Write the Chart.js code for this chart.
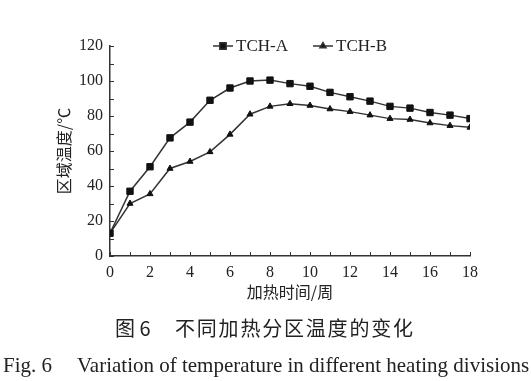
<!DOCTYPE html>
<html>
<head>
<meta charset="utf-8">
<script src="https://cdn.jsdelivr.net/npm/chart.js@4.4.0/dist/chart.umd.min.js"></script>
<style>
  html, body { margin: 0; padding: 0; background: #fff; }
  #wrap { position: relative; width: 531px; height: 381px; overflow: hidden; }
  #myChart { position: absolute; left: 0; top: 0; }
  .cap { position: absolute; white-space: nowrap; color: #222; line-height: 1; }
  .cn { font-family: "Noto Sans CJK SC", sans-serif; font-size: 20px; }
  .en { font-family: "Liberation Serif", serif; font-size: 21px; }
</style>
</head>
<body>
<div id="wrap">
  <canvas id="myChart" width="531" height="381"></canvas>
  <span class="cap cn" style="left:115px; top:318px;">图 6</span>
  <span class="cap cn" style="left:175px; top:318px; letter-spacing:1.8px;">不同加热分区温度的变化</span>
  <span class="cap en" style="left:3px; top:355px;">Fig. 6</span>
  <span class="cap en" style="left:77px; top:355px;">Variation of temperature in different heating divisions</span>
</div>
<script>
// weeks of heating and zone temperatures (°C)
const weeks = [0, 1, 2, 3, 4, 5, 6, 7, 8, 9, 10, 11, 12, 13, 14, 15, 16, 17, 18];
const tchA = [13, 37, 51, 67.5, 76.5, 89, 96, 100, 100.5, 98.5, 97, 93.5, 91, 88.5, 85.5, 84.5, 82, 80.5, 78.5];
const tchB = [13, 30, 35.5, 50, 54, 59.5, 69.5, 81, 85.5, 87, 86, 84, 82.5, 80.5, 78.5, 78, 76, 74.5, 73.5];
const seriesNames = ['TCH-A', 'TCH-B'];
const xTitle = '加热时间/周';
const yTitle = '区域温度/℃';

const ink = '#333333';
let ctx = document.getElementById('myChart');

function pts(vals) {
  return weeks.map(function (w, i) { return { x: w, y: vals[i] }; });
}

// small inward ticks + legend drawn inside the plot
const extras = {
  id: 'extras',
  afterDraw: function (chart) {
    const c = chart.ctx;
    const xs = chart.scales.x, ys = chart.scales.y;
    const area = chart.chartArea;
    c.save();
    c.strokeStyle = ink;
    c.lineWidth = 1;
    for (let v = 0; v <= 18; v++) {
      const px = Math.round(xs.getPixelForValue(v)) + 0.5;
      c.beginPath();
      c.moveTo(px, area.bottom);
      c.lineTo(px, area.bottom - 4);
      c.stroke();
    }
    for (let v = 0; v <= 120; v += 10) {
      const py = Math.round(ys.getPixelForValue(v)) + 0.5;
      c.beginPath();
      c.moveTo(area.left, py);
      c.lineTo(area.left + 4, py);
      c.stroke();
    }
    // legend
    const items = [{ x: 213, style: 'rect', r: 4.5 }, { x: 313, style: 'triangle', r: 3.5 }];
    const ly = 46;
    c.font = '17px "Liberation Serif", serif';
    c.textBaseline = 'middle';
    items.forEach(function (it, i) {
      c.strokeStyle = ink;
      c.lineWidth = 1.5;
      c.beginPath();
      c.moveTo(it.x, ly);
      c.lineTo(it.x + 20, ly);
      c.stroke();
      c.fillStyle = '#111';
      Chart.helpers.drawPoint(c, { pointStyle: it.style, radius: it.r, borderWidth: 1 }, it.x + 10, ly);
      c.fillStyle = '#222';
      c.fillText(seriesNames[i], it.x + 23, ly + 1);
    });
    c.restore();
  }
};

new Chart(ctx, {
  type: 'line',
  data: {
    datasets: [{
      label: seriesNames[0],
      data: pts(tchA),
      borderColor: ink,
      borderWidth: 1.5,
      backgroundColor: '#111',
      pointBorderColor: '#111',
      pointStyle: 'rect',
      pointRadius: 4.5,
      pointBorderWidth: 1,
      tension: 0
    }, {
      label: seriesNames[1],
      data: pts(tchB),
      borderColor: ink,
      borderWidth: 1.5,
      backgroundColor: '#111',
      pointBorderColor: '#111',
      pointStyle: 'triangle',
      pointRadius: 3.5,
      pointBorderWidth: 1,
      tension: 0
    }]
  },
  options: {
    responsive: false,
    animation: false,
    layout: { padding: { left: 50, right: 61, top: 46, bottom: 75 } },
    plugins: {
      legend: { display: false },
      tooltip: { enabled: false }
    },
    scales: {
      x: {
        type: 'linear',
        min: 0,
        max: 18,
        grid: { display: false, drawTicks: false },
        border: { display: true, color: ink, width: 1.5 },
        ticks: {
          stepSize: 2,
          padding: 7,
          color: '#222',
          font: { family: '"Liberation Serif", serif', size: 16 }
        },
        title: {
          display: true,
          text: xTitle,
          color: '#222',
          font: { family: '"Noto Sans CJK SC", sans-serif', size: 16 }
        },
        afterFit: function (scale) { scale.height = 50; }
      },
      y: {
        min: 0,
        max: 120,
        grid: { display: false, drawTicks: false },
        border: { display: true, color: ink, width: 1.5 },
        ticks: {
          stepSize: 20,
          padding: 7,
          color: '#222',
          font: { family: '"Liberation Serif", serif', size: 16 }
        },
        title: {
          display: true,
          text: yTitle,
          color: '#222',
          font: { family: '"Noto Sans CJK SC", sans-serif', size: 16 }
        },
        afterFit: function (scale) { scale.width = 60; }
      }
    }
  },
  plugins: [extras]
});
</script>
</body>
</html>
